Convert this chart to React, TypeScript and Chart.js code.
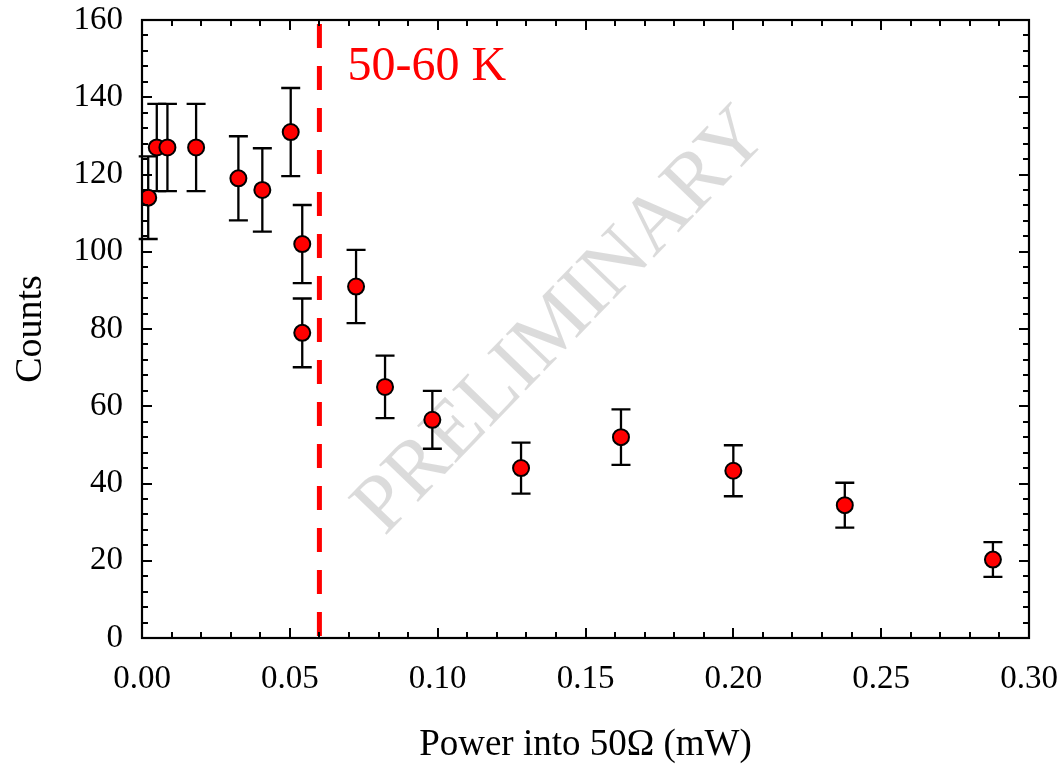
import React, { useEffect, useRef } from "react";
import { Chart, registerables } from "chart.js";

Chart.register(...registerables);

const powerMW = [0.0021, 0.005, 0.0086, 0.0183, 0.0326, 0.0407, 0.0503, 0.0542, 0.0542, 0.0724, 0.0822, 0.0982, 0.1282, 0.162, 0.2, 0.2377, 0.2878];
const counts = [114, 127, 127, 127, 119, 116, 131, 102, 79, 91, 65, 56.5, 44, 52, 43.3, 34.4, 20.3];
const countErrors = [10.7, 11.3, 11.3, 11.3, 10.9, 10.8, 11.4, 10.1, 8.9, 9.5, 8.1, 7.5, 6.6, 7.2, 6.6, 5.8, 4.5];
const thresholdPower = 0.06;
const thresholdLabel = "50-60 K";
const watermarkText = "PRELIMINARY";
const xTitle = "Power into 50Ω (mW)";
const yTitle = "Counts";

const FONT = "'Liberation Serif', 'Times New Roman', serif";

const overlayPlugin = {
  id: "overlay",
  beforeDatasetsDraw(chart: any) {
    const { ctx, chartArea, scales } = chart;
    const xs = scales.x;
    const ys = scales.y;
    // watermark
    ctx.save();
    ctx.translate(562, 322);
    ctx.rotate((-46 * Math.PI) / 180);
    ctx.font = `82px ${FONT}`;
    ctx.fillStyle = "rgba(0,0,0,0.14)";
    ctx.textAlign = "center";
    ctx.textBaseline = "middle";
    ctx.fillText(watermarkText, 0, 0);
    ctx.restore();

    // threshold dashed line
    const tx = xs.getPixelForValue(thresholdPower);
    ctx.save();
    ctx.strokeStyle = "#ff0000";
    ctx.lineWidth = 5;
    ctx.setLineDash([24, 18]);
    ctx.beginPath();
    ctx.moveTo(tx, chartArea.top + 4);
    ctx.lineTo(tx, chartArea.bottom);
    ctx.stroke();
    ctx.restore();

    // label
    ctx.save();
    ctx.font = `48px ${FONT}`;
    ctx.fillStyle = "#ff0000";
    ctx.textAlign = "left";
    ctx.textBaseline = "alphabetic";
    ctx.fillText(thresholdLabel, tx + 28, 80);
    ctx.restore();

    // error bars
    ctx.save();
    ctx.strokeStyle = "#000";
    ctx.lineWidth = 2.3;
    for (let i = 0; i < powerMW.length; i++) {
      const px = xs.getPixelForValue(powerMW[i]);
      const top = ys.getPixelForValue(counts[i] + countErrors[i]);
      const bot = ys.getPixelForValue(counts[i] - countErrors[i]);
      ctx.beginPath();
      ctx.moveTo(px, top);
      ctx.lineTo(px, bot);
      ctx.moveTo(px - 9.5, top);
      ctx.lineTo(px + 9.5, top);
      ctx.moveTo(px - 9.5, bot);
      ctx.lineTo(px + 9.5, bot);
      ctx.stroke();
    }
    ctx.restore();
  },
  afterDraw(chart: any) {
    const { ctx, chartArea, scales } = chart;
    const xs = scales.x;
    const ys = scales.y;
    const { left, right, top, bottom } = chartArea;
    ctx.save();
    ctx.strokeStyle = "#000";
    ctx.lineWidth = 2;
    ctx.beginPath();
    for (let k = 0; k <= 30; k++) {
      const v = k / 100;
      const px = Math.round(xs.getPixelForValue(v));
      const len = k % 5 === 0 ? 10 : 6;
      ctx.moveTo(px, bottom);
      ctx.lineTo(px, bottom - len);
      ctx.moveTo(px, top);
      ctx.lineTo(px, top + len);
    }
    for (let k = 0; k <= 40; k++) {
      const v = k * 4;
      const py = Math.round(ys.getPixelForValue(v));
      const len = k % 5 === 0 ? 10 : 6;
      ctx.moveTo(left, py);
      ctx.lineTo(left + len, py);
      ctx.moveTo(right, py);
      ctx.lineTo(right - len, py);
    }
    ctx.stroke();
    ctx.lineWidth = 2.2;
    ctx.strokeRect(left, top, right - left, bottom - top);
    ctx.restore();
  },
};

export default function App() {
  const canvasRef = useRef<HTMLCanvasElement | null>(null);
  useEffect(() => {
    if (!canvasRef.current) return;
    const chart = new Chart(canvasRef.current, {
      type: "scatter",
      data: {
        datasets: [
          {
            data: powerMW.map((x, i) => ({ x, y: counts[i] })),
            pointBackgroundColor: "#ff0000",
            pointBorderColor: "#000",
            pointBorderWidth: 2,
            pointRadius: 8,
            showLine: false,
          },
        ],
      },
      options: {
        animation: false,
        responsive: true,
        maintainAspectRatio: false,
        layout: { padding: { left: 0, top: 20, right: 34, bottom: 0 } },
        plugins: { legend: { display: false }, tooltip: { enabled: false } },
        scales: {
          x: {
            type: "linear",
            min: 0,
            max: 0.3,
            grid: { display: false, drawTicks: false },
            border: { display: false },
            ticks: {
              stepSize: 0.05,
              padding: 22,
              color: "#000",
              font: { family: FONT, size: 33 },
              callback: (v: any) => Number(v).toFixed(2),
              maxRotation: 0,
              autoSkip: false,
            },
            title: {
              display: true,
              text: xTitle,
              color: "#000",
              font: { family: FONT, size: 37 },
              padding: { top: 0, bottom: 0 },
            },
            afterFit: (s: any) => {
              s.height = 129;
              s.paddingLeft = 0;
              s.paddingRight = 0;
            },
          },
          y: {
            type: "linear",
            min: 0,
            max: 160,
            grid: { display: false, drawTicks: false },
            border: { display: false },
            ticks: {
              stepSize: 20,
              padding: 19,
              color: "#000",
              font: { family: FONT, size: 33 },
            },
            title: {
              display: true,
              text: yTitle,
              color: "#000",
              font: { family: FONT, size: 38 },
              padding: { top: 8, bottom: 0 },
            },
            afterFit: (s: any) => {
              s.width = 142;
              s.paddingTop = 0;
              s.paddingBottom = 0;
            },
          },
        },
      },
      plugins: [overlayPlugin],
    });
    return () => chart.destroy();
  }, []);
  return (
    <div style={{ position: "fixed", left: 0, top: 0, width: 1063, height: 767, background: "#fff" }}>
      <canvas ref={canvasRef} />
    </div>
  );
}
